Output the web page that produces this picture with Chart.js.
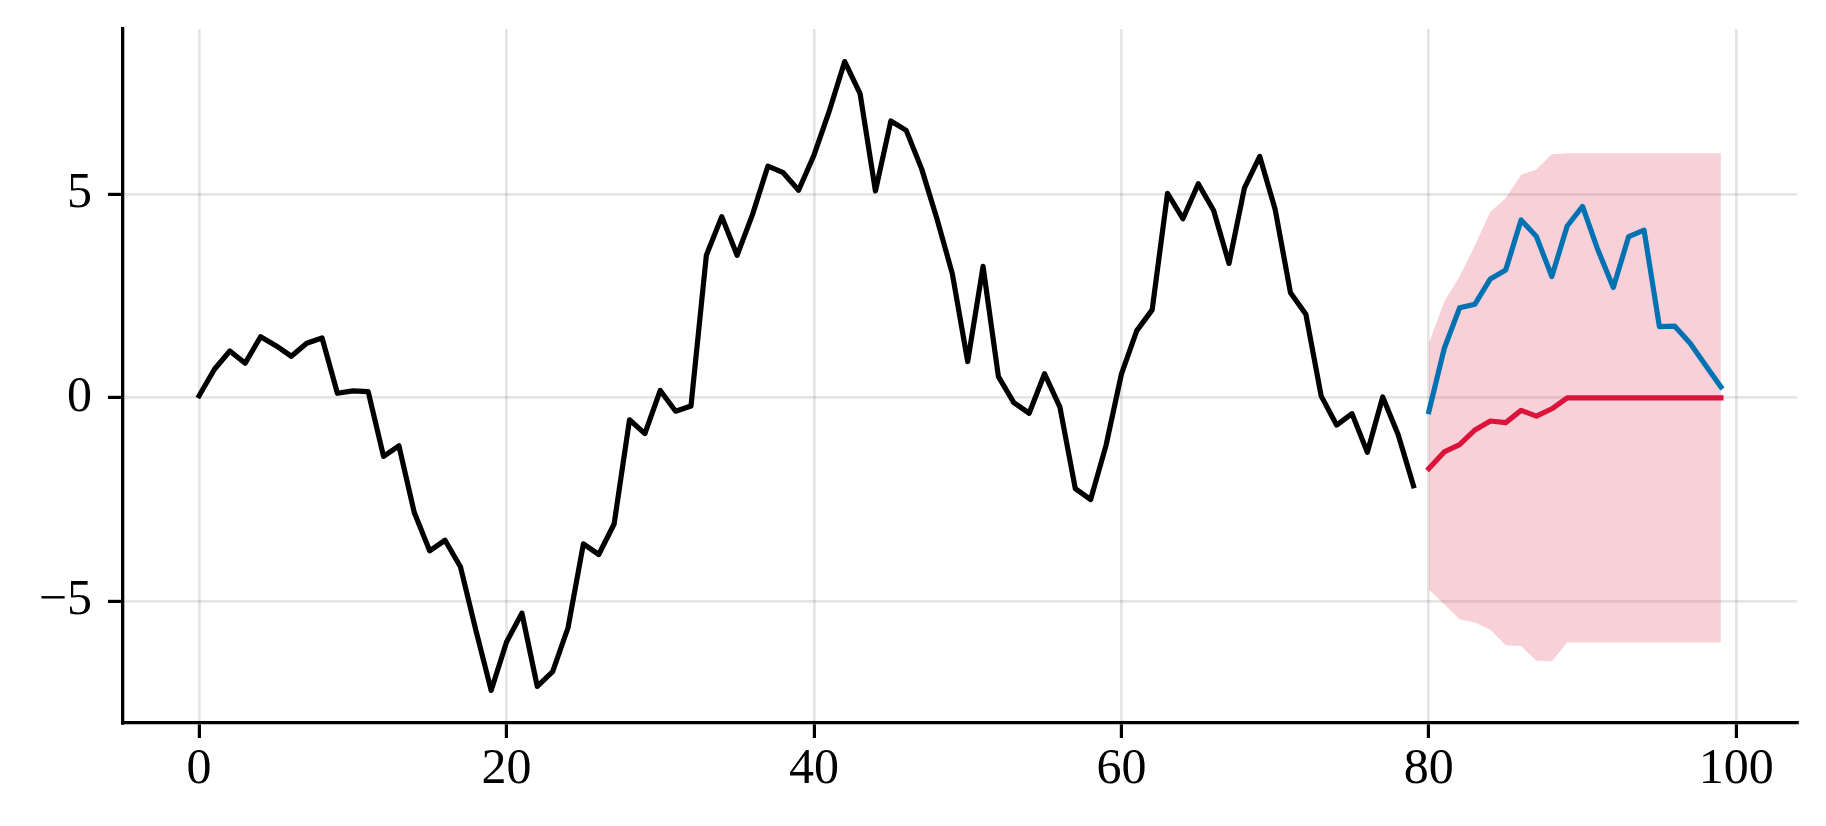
<!DOCTYPE html>
<html>
<head>
<meta charset="utf-8">
<title>Serie y pronóstico</title>
<script src="https://cdn.jsdelivr.net/npm/chart.js@4.4.1/dist/chart.umd.min.js"></script>
<style>
  html, body { margin: 0; padding: 0; background: #ffffff; }
  canvas { display: block; }
</style>
</head>
<body>
<canvas id="chartSerie" width="1826" height="826"></canvas>
<script>
/* =========================
   DATOS
========================= */

// serie observada, pasos 0..79
const historico = [
  0.05, 0.70, 1.15, 0.85, 1.50, 1.28, 1.02, 1.34, 1.47, 0.11,
  0.17, 0.15, -1.44, -1.18, -2.82, -3.76, -3.50, -4.15, -5.70, -7.19,
  -6.00, -5.29, -7.09, -6.73, -5.65, -3.59, -3.85, -3.10, -0.54, -0.88,
  0.18, -0.33, -0.20, 3.50, 4.45, 3.50, 4.50, 5.69, 5.53, 5.10,
  5.96, 7.05, 8.26, 7.47, 5.08, 6.80, 6.57, 5.63, 4.40, 3.05,
  0.89, 3.23, 0.52, -0.12, -0.38, 0.59, -0.23, -2.23, -2.50, -1.17,
  0.58, 1.65, 2.16, 5.02, 4.40, 5.26, 4.60, 3.30, 5.15, 5.93,
  4.63, 2.58, 2.05, 0.04, -0.67, -0.39, -1.34, 0.02, -0.90, -2.16
];

// tramo de pronóstico, pasos 80..99
const inicioPronostico = 80;

const real = [
  -0.34, 1.21, 2.21, 2.30, 2.92, 3.14, 4.37, 3.96, 2.98, 4.22,
  4.70, 3.63, 2.71, 3.96, 4.12, 1.75, 1.76, 1.34, 0.80, 0.27
];

const pronostico = [
  -1.74, -1.33, -1.15, -0.79, -0.57, -0.61, -0.31, -0.45, -0.27, 0.00,
  0.00, 0.00, 0.00, 0.00, 0.00, 0.00, 0.00, 0.00, 0.00, 0.00
];

const bandaSuperior = [
  1.34, 2.36, 2.98, 3.75, 4.57, 4.90, 5.48, 5.61, 5.98, 6.01,
  6.01, 6.01, 6.01, 6.01, 6.01, 6.01, 6.01, 6.01, 6.01, 6.01
];

const bandaInferior = [
  -4.71, -5.07, -5.44, -5.52, -5.70, -6.08, -6.10, -6.46, -6.47, -6.01,
  -6.01, -6.01, -6.01, -6.01, -6.01, -6.01, -6.01, -6.01, -6.01, -6.01
];

const ticksX = [0, 20, 40, 60, 80, 100];
const ticksY = [-5, 0, 5];

/* =========================
   GRÁFICO
========================= */

const puntos = (valores, desde) =>
  valores.map((v, i) => ({ x: desde + i, y: v }));

const fuente = {
  family: '"Liberation Serif", "DejaVu Serif", serif',
  size: 50
};

const rejilla = {
  color: 'rgba(0,0,0,0.1)',
  lineWidth: 2.8,
  tickColor: '#000000',
  tickLength: 15,
  tickWidth: 3.2
};

const borde = {
  display: true,
  color: '#000000',
  width: 3.3
};

new Chart(document.getElementById('chartSerie'), {

  type: 'line',

  data: {
    datasets: [
      {
        label: 'histórico',
        data: puntos(historico, 0),
        borderColor: '#000000',
        borderWidth: 5.2,
        order: 1
      },
      {
        label: 'real',
        data: puntos(real, inicioPronostico),
        borderColor: '#0072B2',
        borderWidth: 5.2,
        order: 2
      },
      {
        label: 'pronóstico',
        data: puntos(pronostico, inicioPronostico),
        borderColor: '#DC143C',
        borderWidth: 5.2,
        order: 3
      },
      {
        label: 'banda inferior',
        data: puntos(bandaInferior, inicioPronostico),
        borderWidth: 0,
        borderColor: 'rgba(0,0,0,0)',
        fill: false,
        order: 10
      },
      {
        label: 'banda superior',
        data: puntos(bandaSuperior, inicioPronostico),
        borderWidth: 0,
        borderColor: 'rgba(0,0,0,0)',
        backgroundColor: 'rgba(220,20,60,0.2)',
        fill: '-1',
        order: 11
      }
    ]
  },

  options: {

    responsive: false,
    devicePixelRatio: 1,
    animation: false,

    layout: {
      padding: { top: 29, right: 29, left: 0, bottom: 0 }
    },

    elements: {
      point: { radius: 0 },
      line: {
        tension: 0,
        borderCapStyle: 'square',
        borderJoinStyle: 'round'
      }
    },

    plugins: {
      legend: { display: false },
      tooltip: { enabled: false }
    },

    scales: {

      x: {
        type: 'linear',
        min: -4.95,
        max: 103.95,
        afterBuildTicks: (scale) => {
          scale.ticks = ticksX.map(v => ({ value: v }));
        },
        afterFit: (scale) => {
          scale.height = 103;
          scale.paddingLeft = 0;
          scale.paddingRight = 0;
        },
        ticks: {
          color: '#000000',
          font: fuente,
          padding: 2,
          maxRotation: 0,
          callback: (v) => String(v)
        },
        grid: rejilla,
        border: borde
      },

      y: {
        type: 'linear',
        min: -7.99,
        max: 9.06,
        afterBuildTicks: (scale) => {
          scale.ticks = ticksY.map(v => ({ value: v }));
        },
        afterFit: (scale) => {
          scale.width = 123;
          scale.paddingTop = 0;
          scale.paddingBottom = 0;
        },
        ticks: {
          color: '#000000',
          font: fuente,
          padding: 16,
          callback: (v) => (v < 0 ? '\u2212' + Math.abs(v) : String(v))
        },
        grid: rejilla,
        border: borde
      }

    }

  }

});
</script>
</body>
</html>
